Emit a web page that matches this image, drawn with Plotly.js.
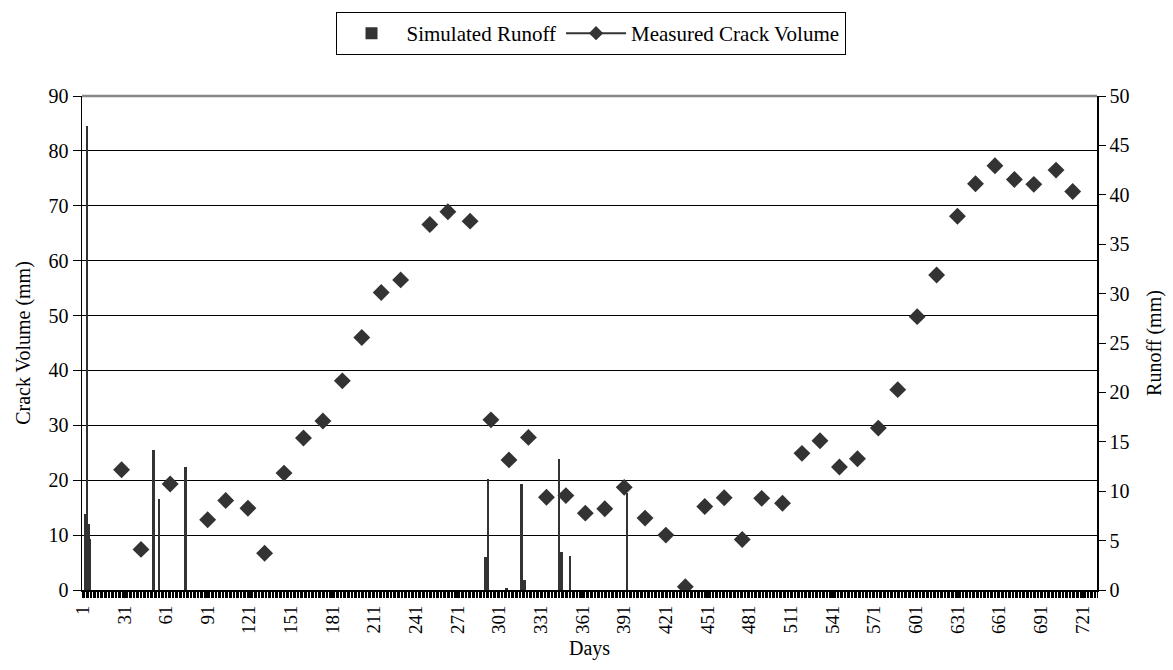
<!DOCTYPE html>
<html>
<head>
<meta charset="utf-8">
<script src="https://cdn.plot.ly/plotly-3.0.1.min.js"></script>
<style>html,body{margin:0;padding:0;background:#fff;}#chart{width:1173px;height:670px;}</style>
</head>
<body>
<div id="chart"></div>
<script>
// Measured crack volume (left axis, mm)
var crackDays = [29,43,64,91,104,120,132,146,160,174,188,202,216,230,251,264,280,295,308,322,335,349,363,377,391,406,421,435,449,463,476,490,505,519,532,546,559,574,588,602,616,631,644,658,672,686,702,714];
var crackVolume = [21.9,7.4,19.3,12.8,16.3,14.9,6.7,21.3,27.7,30.8,38.1,46.0,54.2,56.5,66.6,68.9,67.2,31.0,23.7,27.8,16.9,17.2,14.0,14.8,18.7,13.1,10.0,0.6,15.2,16.8,9.2,16.7,15.8,24.9,27.2,22.4,23.9,29.5,36.5,49.8,57.4,68.1,74.0,77.3,74.8,73.9,76.5,72.6];
// Simulated runoff (right axis, mm)
var runoffDays = [3,4,5,6,52,56,75,291,293,306,317,319,344,346,352,393];
var runoffValues = [7.7,47.0,6.7,5.2,14.2,9.2,12.5,3.3,11.2,0.17,10.7,1.05,13.3,3.8,3.4,9.8];
// x tick labels
var dayTicks = [1,31,61,91,121,151,181,211,241,271,301,331,361,391,421,451,481,511,541,571,601,631,661,691,721];
var dayTickText = dayTicks.map(String);

var dark = '#333333';
var fontFam = 'Liberation Serif, Times New Roman, serif';
var fs = 20;

var traces = [
  {
    type: 'bar', x: runoffDays, y: runoffValues, name: 'Simulated Runoff',
    yaxis: 'y', marker: {color: dark, line: {width: 0}}, width: 1.9,
    hoverinfo: 'x+y'
  },
  {
    type: 'scatter', mode: 'markers', x: crackDays, y: crackVolume,
    name: 'Measured Crack Volume', yaxis: 'y2', showlegend: false,
    marker: {symbol: 'diamond', size: 13, color: dark}
  },
  {
    type: 'scatter', mode: 'lines+markers', x: [null], y: [null],
    name: 'Measured Crack Volume', yaxis: 'y2',
    line: {color: dark, width: 2}, marker: {symbol: 'diamond', size: 11, color: dark}
  }
];

var layout = {
  width: 1173, height: 670,
  margin: {l: 82, r: 76, t: 94, b: 80},
  paper_bgcolor: '#fff', plot_bgcolor: '#fff',
  font: {family: fontFam, size: fs, color: '#000'},
  bargap: 0,
  showlegend: true,
  legend: {
    orientation: 'h', x: 0.501, xanchor: 'center', y: 1.17, yanchor: 'top',
    bordercolor: '#000', borderwidth: 1, bgcolor: '#fff',
    font: {family: fontFam, size: 21, color: '#000'},
    itemwidth: 60, tracegroupgap: 0
  },
  xaxis: {
    range: [0.5, 731.5], tickmode: 'array', tickvals: dayTicks, ticktext: dayTickText,
    tickangle: -90, ticks: 'outside', ticklen: 6, tickwidth: 1, tickcolor: '#000',
    showline: true, linecolor: '#000', linewidth: 2, showgrid: false, zeroline: false,
    minor: {tick0: 0.5, dtick: 1, ticks: 'outside', ticklen: 6, tickwidth: 1, tickcolor: '#000', showgrid: false},
    title: {text: 'Days', font: {family: fontFam, size: 20}, standoff: 8},
    tickfont: {family: fontFam, size: 19}, fixedrange: true
  },
  yaxis: {
    side: 'right', range: [0, 50], dtick: 5, tick0: 0,
    ticks: 'outside', ticklen: 7, tickcolor: '#000',
    showline: true, linecolor: '#000', linewidth: 1.5,
    showgrid: false, zeroline: false,
    title: {text: 'Runoff (mm)', font: {family: fontFam, size: 20}, standoff: 18},
    tickfont: {family: fontFam, size: fs}, fixedrange: true
  },
  yaxis2: {
    side: 'left', overlaying: 'y', range: [0, 90], dtick: 10, tick0: 0,
    ticks: 'outside', ticklen: 8, tickcolor: '#000',
    showline: true, linecolor: '#000', linewidth: 1.5,
    showgrid: true, gridcolor: '#000', gridwidth: 1, zeroline: false,
    title: {text: 'Crack Volume (mm)', font: {family: fontFam, size: 20}, standoff: 12},
    tickfont: {family: fontFam, size: fs}, fixedrange: true
  },
  shapes: [
    {type: 'line', xref: 'paper', yref: 'paper', x0: 0, x1: 1, y0: 1, y1: 1,
     line: {color: '#888888', width: 2.5}}
  ]
};

Plotly.newPlot('chart', traces, layout, {displayModeBar: false, staticPlot: true});
</script>
</body>
</html>
